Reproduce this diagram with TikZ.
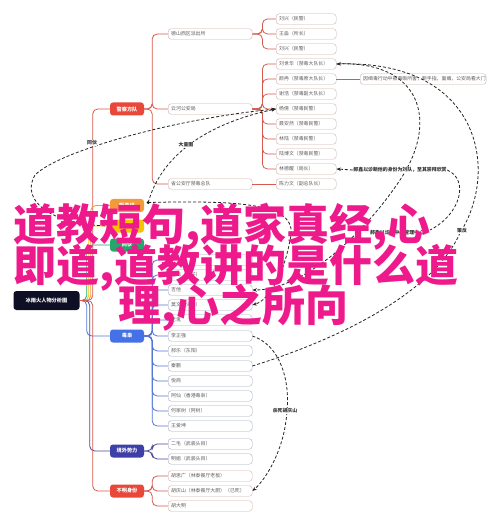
\documentclass[tikz,border=0pt]{standalone}
\usepackage{fontspec}
\newfontfamily\cjk{Noto Sans CJK SC}
\usetikzlibrary{arrows.meta,calc}
\definecolor{redb}{HTML}{E8473A}
\definecolor{oranb}{HTML}{F39A3B}
\definecolor{yelb}{HTML}{F5C400}
\definecolor{greb}{HTML}{22A86A}
\definecolor{blub}{HTML}{4470E8}
\definecolor{indb}{HTML}{3F3FA8}
\definecolor{rootc}{HTML}{0E0E24}
\definecolor{redl}{HTML}{D65A4E}
\definecolor{blul}{HTML}{5676D6}
\definecolor{indl}{HTML}{4A4A9C}
\definecolor{bordr}{HTML}{CDB0A8}
\definecolor{bordb}{HTML}{A2AABD}
\definecolor{txtc}{HTML}{5E5E5E}
\definecolor{pinkc}{HTML}{EE1A8C}
\tikzset{
  leafbox/.style={draw=#1, rounded corners=3pt, fill=white, minimum height=10.5pt,
    inner xsep=3pt, inner ysep=0pt, anchor=west, align=left, text=txtc,
    font=\cjk\fontsize{4.9}{5}\selectfont},
  leaftwo/.style={leafbox=#1, text width=78pt},
  leafthree/.style={leafbox=#1, text width=54pt},
  branch/.style={fill=#1, rounded corners=3pt, minimum width=34pt, minimum height=13pt,
    inner sep=0pt, text=white, font=\cjk\bfseries\fontsize{5.2}{6}\selectfont},
  link/.style={draw=#1, line width=0.8pt, rounded corners=5pt},
  rel/.style={draw=black!85, line width=0.8pt, dash pattern=on 3pt off 2pt},
  relarrow/.style={rel, -{Stealth[length=4.5pt,width=3.5pt]}},
  rellabel/.style={font=\cjk\bfseries\fontsize{4.9}{5}\selectfont, text=black!80, inner sep=0.5pt},
  pinktext/.style={anchor=west, inner sep=0pt, text=pinkc, font=\cjk\bfseries\fontsize{43}{43}\selectfont},
}
\begin{document}
\begin{tikzpicture}[x=1pt,y=-1pt]
\useasboundingbox (0,0) rectangle (499,529);
\fill[white] (0,0) rectangle (499,529);

% root
\node[fill=rootc, rounded corners=3pt, minimum width=66pt, minimum height=19pt, inner sep=0pt,
  text=white, font=\cjk\bfseries\fontsize{5.2}{6}\selectfont] (root) at (46.5,300.5) {冰雨火人物分析图};

% branches
\node[branch=redb]  (jc) at (127,109) {警察方队};
\node[branch=oranb] (fd) at (127,205.5) {贩毒线};
\node[branch=yelb]  (yl) at (127,226) {卧底};
\node[branch=greb]  (gr) at (127,245) {同伙};
\node[branch=blub]  (db) at (127,336) {毒枭};
\node[branch=indb]  (jw) at (127,451) {境外势力};
\node[branch=redb]  (bm) at (127,491) {不明身份};

% level 2 under police
\node[leaftwo=bordr] (ds) at (168,34) {德山西区派出所};
\node[leaftwo=bordr] (yh) at (168,109) {云河公安局};
\node[leaftwo=bordr] (sg) at (168,184) {省公安厅禁毒总队};

% level 3
\node[leafthree=bordr] (l1) at (276,19) {刘兴（民警）};
\node[leafthree=bordr] (l2) at (276,34) {王淼（所长）};
\node[leafthree=bordr] (l3) at (276,49) {刘兴（民警）};
\node[leafthree=bordr] (y1) at (276,64) {刘世华（禁毒大队长）};
\node[leafthree=bordr] (y2) at (276,79) {颜冉（禁毒原大队长）};
\node[leafthree=bordr] (y3) at (276,94) {谢浩（禁毒副大队长）};
\node[leafthree=bordr] (y4) at (276,109) {杨倩（禁毒民警）};
\node[leafthree=bordr] (y5) at (276,124) {聂安然（禁毒民警）};
\node[leafthree=bordr] (y6) at (276,139) {林陆（禁毒民警）};
\node[leafthree=bordr] (y7) at (276,154) {陆博文（禁毒民警）};
\node[leafthree=bordr] (y8) at (276,169) {林德醒（局长）};
\node[leafthree=bordr] (s1) at (276,184) {陈力文（副总队长）};
\node[leafbox=bordr, text width=120pt] (note) at (360,79) {因缉毒行动中被毒贩所害，断手指，面瘫，公安局看大门};

% under drug lord
\node[leaftwo=bordb] (d1) at (168,260) {阿鬼};
\node[leaftwo=bordb] (d2) at (168,275) {马鸣（马仔）};
\node[leaftwo=bordb] (d3) at (168,290) {吉他};
\node[leaftwo=bordb] (d4) at (168,305) {莫文（火山）};
\node[leaftwo=bordb] (d5) at (168,320) {老鬼};
\node[leaftwo=bordb] (d6) at (168,336) {李正强};
\node[leaftwo=bordb] (d7) at (168,351) {郝乐（东阳）};
\node[leaftwo=bordb] (d8) at (168,366) {秦鹏};
\node[leaftwo=bordb] (d9) at (168,381) {悦商};
\node[leaftwo=bordb] (d10) at (168,396) {阿仙（香港毒枭）};
\node[leaftwo=bordb] (d11) at (168,411) {何家树（阿树）};
\node[leaftwo=bordb] (d12) at (168,426) {王爱坤};

\node[leaftwo=bordb] (w1) at (168,444) {二毛（武装头目）};
\node[leaftwo=bordb] (w2) at (168,459) {明姐（武装头目）};

\node[leaftwo=bordr] (u1) at (168,476) {胡思广（林泰餐厅老板）};
\node[leaftwo=bordr] (u2) at (168,491) {胡庆山（林泰餐厅大厨）（已死）};
\node[leaftwo=bordr] (u3) at (168,506) {胡大明};

% connectors root -> branches
\draw[link=redl] (root.east) -- ++(13,0) |- (jc.west);
\draw[link=oranb] (root.east) -- ++(11,0) |- (fd.west);
\draw[link=yelb] (root.east) -- ++(9,0) |- (yl.west);
\draw[link=greb] (root.east) -- ++(7,0) |- (gr.west);
\draw[link=blul] (root.east) -- ++(7,0) |- (db.west);
\draw[link=indl] (root.east) -- ++(10,0) |- (jw.west);
\draw[link=redl] (root.east) -- ++(13,0) |- (bm.west);

% police
\foreach \c in {ds,yh,sg} \draw[link=redl] (jc.east) -- ++(8,0) |- (\c.west);
\foreach \c in {l1,l2,l3} \draw[link=redl] (ds.east) -- ++(10,0) |- (\c.west);
\foreach \c in {y1,y2,y3,y4,y5,y6,y7,y8} \draw[link=redl] (yh.east) -- ++(10,0) |- (\c.west);
\draw[link=redl] (sg.east) -- (s1.west);
\draw[link=redl] (y2.east) -- (note.west);

% drug lords
\foreach \c in {d1,d2,d3,d4,d5,d6,d7,d8,d9,d10,d11,d12} \draw[link=blul] (db.east) -- ++(8,0) |- (\c.west);
\foreach \c in {w1,w2} \draw[link=indl] (jw.east) -- ++(8,0) |- (\c.west);
\foreach \c in {u1,u2,u3} \draw[link=redl] (bm.east) -- ++(8,0) |- (\c.west);

% relationships
\coordinate (dot) at ($(fd.east)+(4,-3)$);
\fill[black] (dot) circle (1.6pt);
\draw[relarrow] (yl.west) .. controls (50,225) and (20,200) .. (35,175)
   .. controls (60,150) and (180,118) .. (y4.west);
\node[rellabel, fill=white] (lbA) at (92,143) {同伙};
\draw[relarrow] (dot) .. controls (160,160) and (200,125) .. (y4.west);
\node[rellabel, fill=white] (lbB) at (186,145) {大量图};
\draw[relarrow] (d8.east) .. controls (320,345) and (430,300) .. (460,233)
   .. controls (500,170) and (480,60) .. (y1.east);
\node[rellabel, fill=white] (lbC) at (462,231) {策反};
\draw[relarrow] (y1.east) .. controls (420,60) and (440,120) .. (400,180)
   .. controls (360,240) and (300,290) .. (d3.east);
\node[rellabel, fill=white] (lbD) at (400,170) {郝鑫以诊断他的身份为刘队，至其崇拜欣赏};
\draw[relarrow] (lbD.west) -- (y8.east);
\draw[rel] (lbD.east) .. controls (470,180) and (460,215) .. (430,230);
\node[rellabel] (lbE) at (397,233) {郝鑫以诊断中心管理中心};
\draw[relarrow] (dot) .. controls (250,200) and (300,205) .. (290,240)
   .. controls (285,270) and (270,300) .. (d4.east);
\draw[relarrow] (d6.east) .. controls (280,345) and (290,380) .. (287,410)
   .. controls (285,450) and (265,480) .. (u2.east);
\node[rellabel, fill=white] (lbF) at (285,411) {杀死胡庆山};

% overlay title
\node[pinktext] (t1) at (13,227) {道教短句,道家真经,心};
\node[pinktext] (t2) at (13,268) {即道,道教讲的是什么道};
\node[pinktext] (t3) at (118,308) {理,心之所向};
\end{tikzpicture}
\end{document}
